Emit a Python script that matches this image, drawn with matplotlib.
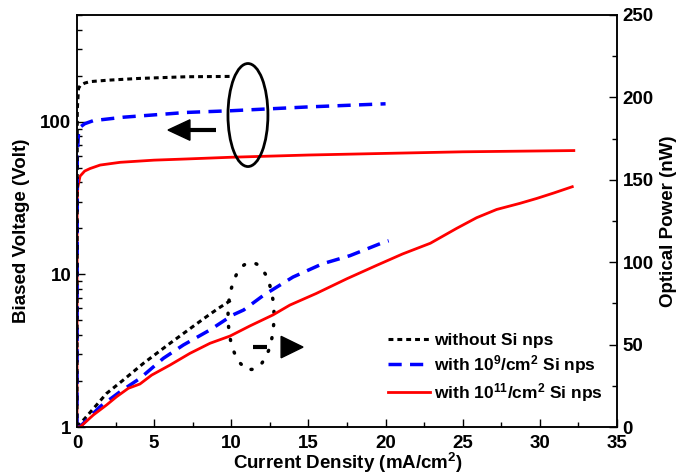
import numpy as np
import matplotlib
matplotlib.use("Agg")
import matplotlib.pyplot as plt
from matplotlib.patches import Ellipse, Polygon
from matplotlib.ticker import FixedLocator, FuncFormatter, LogLocator, NullFormatter, MultipleLocator

plt.rcParams["font.family"] = ["Liberation Sans", "DejaVu Sans"]
plt.rcParams["font.weight"] = "bold"
plt.rcParams["axes.labelweight"] = "bold"
plt.rcParams["mathtext.fontset"] = "custom"
plt.rcParams["mathtext.rm"] = "Liberation Sans:bold"
plt.rcParams["mathtext.bf"] = "Liberation Sans:bold"
plt.rcParams["mathtext.default"] = "bf"

# biased voltage (left axis, log)
j_v_none = [0, 0.02, 0.1, 0.2, 0.5, 0.84, 2, 4, 7.1, 10]
v_none = [1, 120, 165, 172, 179, 183, 187, 192, 197, 198]
j_v_e9 = [0, 0.02, 0.1, 0.2, 0.5, 1.06, 3, 7.1, 10, 15, 20]
v_e9 = [1, 60, 85, 92, 97, 101.6, 107, 115, 118, 125, 131]
j_v_e11 = [0, 0.01, 0.05, 0.2, 0.5, 0.84, 1.5, 2.8, 5, 7.1, 10, 15, 20, 25, 32.2]
v_e11 = [1, 30, 37, 44, 47.5, 49.3, 52, 54.2, 56, 57, 58.5, 60.5, 62, 63.5, 64.7]

# optical power (right axis, linear)
j_p_none = [0, 0.52, 1.92, 3.0, 4.3, 6.03, 7.65, 8.4, 9.16, 10]
p_none = [0, 5.3, 20.4, 28.5, 38.6, 50.8, 61.9, 67, 72, 77]
j_p_e9 = [0, 0.2, 1.49, 2.79, 4.08, 5.6, 6.9, 8.62, 10.1, 10.8, 12.1, 14.0, 15.9, 17.7, 19.85, 20.2]
p_e9 = [0, 0.2, 12.3, 21.4, 29.5, 41.7, 49.8, 58.9, 68, 71, 80, 91, 99, 104, 112, 113]
j_p_e11 = [0, 0.2, 1.06, 1.92, 2.57, 3.33, 4.08, 4.84, 6.03, 7.32, 8.62, 9.92, 11.2,
           12.7, 13.8, 15.5, 17.5, 19.4, 21.1, 22.9, 24.6, 25.9, 27.2, 28.7, 29.8, 30.9, 32.1]
p_e11 = [0, 0, 7.3, 13.4, 18.4, 23.5, 26.1, 31.5, 37.6, 44.7, 50.8, 55.2, 61.3,
         68, 74, 81, 90, 98, 105, 111.5, 120.5, 127, 132, 135.7, 138.7, 142, 145.8]

labels = ["without Si nps",
          r"with 10$^{9}$/cm$^{2}$ Si nps",
          r"with 10$^{11}$/cm$^{2}$ Si nps"]

fig = plt.figure(figsize=(6.83, 4.76), dpi=100)
ax = fig.add_axes([0.1127, 0.1029, 0.7907, 0.8656])
ax2 = ax.twinx()

blk = dict(color="black", lw=2.2, dashes=(1.6, 1.3))
blu = dict(color="#0000ff", lw=2.5, dashes=(3.8, 2.4))
red = dict(color="#ff0000", lw=2.0)

ax.plot(j_v_e11, v_e11, **red)
ax.plot(j_v_e9, v_e9, **blu)
ax.plot(j_v_none, v_none, **blk)

ax2.plot(j_p_none, p_none, label=labels[0], **blk)
ax2.plot(j_p_e9, p_e9, label=labels[1], **blu)
ax2.plot(j_p_e11, p_e11, label=labels[2], **red)

ax.set_yscale("log")
ax.set_xlim(0, 35)
ax.set_ylim(1, 500)
ax2.set_ylim(0, 250)

ax.xaxis.set_major_locator(MultipleLocator(5))
ax.xaxis.set_minor_locator(MultipleLocator(2.5))
ax.yaxis.set_major_locator(FixedLocator([1, 10, 100]))
ax.yaxis.set_major_formatter(FuncFormatter(lambda v, p: f"{v:g}"))
ax.yaxis.set_minor_locator(LogLocator(base=10, subs=np.arange(2, 10)))
ax.yaxis.set_minor_formatter(NullFormatter())
ax2.yaxis.set_major_locator(MultipleLocator(50))
ax2.yaxis.set_minor_locator(MultipleLocator(25))

for a in (ax, ax2):
    a.tick_params(which="major", direction="in", length=6, width=1, labelsize=13.5, pad=4)
    a.tick_params(which="minor", direction="in", length=3.5, width=1)
    for s in a.spines.values():
        s.set_linewidth(1.1)
ax.tick_params(axis="x", which="both", top=False, pad=6)
ax.tick_params(axis="y", which="both", right=False)

fig.canvas.draw()
for a in (ax, ax2):
    for t in a.get_xticklabels() + a.get_yticklabels():
        t.set_fontweight("bold")

ax.set_xlabel(r"Current Density (mA/cm$^{2}$)", fontsize=13.5, fontweight="bold")
ax.set_ylabel("Biased Voltage (Volt)", fontsize=13.5, fontweight="bold")
ax2.set_ylabel("Optical Power (nW)", fontsize=13.5, fontweight="bold")
ax.xaxis.set_label_coords(0.502, -0.058)
ax.yaxis.set_label_coords(-0.087, 0.476)
ax2.yaxis.set_label_coords(1.08, 0.5)

leg = ax2.legend(loc="upper left", bbox_to_anchor=(0.563, 0.245), frameon=False,
                 handlelength=2.4, handletextpad=0.25, labelspacing=0.28,
                 borderaxespad=0, prop={"weight": "bold", "size": 12.5})

# annotation: voltage group ellipse + left arrow
ax2.add_patch(Ellipse((11.08, 189.3), 2.59, 62.5, fill=False, ec="black", lw=2))
ax2.plot([7.2, 9.0], [180.2, 180.2], color="black", lw=3, solid_capstyle="butt")
ax2.add_patch(Polygon([[5.9, 180.2], [7.32, 186.4], [7.32, 174.0]], closed=True, fc="black", ec="black"))

# annotation: power group dotted ellipse + right arrow
ax2.add_patch(Ellipse((11.28, 67.4), 2.98, 64.9, fill=False, ec="black", lw=2.5,
                      ls=(0, (0.3, 3.5)), capstyle="round"))
ax2.plot([11.38, 12.33], [48.5, 48.5], color="black", lw=3, solid_capstyle="butt")
ax2.add_patch(Polygon([[14.65, 48.5], [13.23, 55.0], [13.23, 42.0]], closed=True, fc="black", ec="black"))

fig.savefig("out.png", dpi=100)
